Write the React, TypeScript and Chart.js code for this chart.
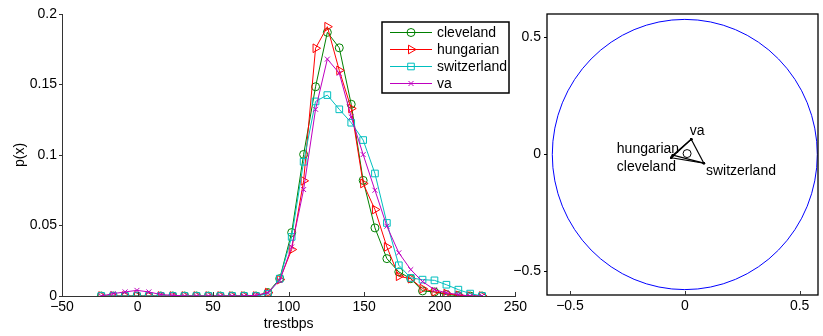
import React, { useEffect, useRef } from "react";
import { Chart, registerables } from "chart.js";

Chart.register(...registerables);

// ---------- Left panel data ----------
const X_VALUES = [
  -24, -16.1, -8.25, -0.4, 7.5, 15.4, 23.3, 31.1, 39, 46.9, 54.8, 62.6, 70.5, 78.4, 86.3, 94.1, 102,
  109.9, 117.8, 125.6, 133.5, 141.4, 149.3, 157.1, 165, 172.9, 180.8, 188.6, 196.5, 204.4, 212.3, 220.1, 228,
];
const CLEVELAND = [
  0, 0, 0, 0, 0, 0, 0, 0, 0, 0, 0, 0, 0, 0,
  0.0024, 0.0123, 0.045, 0.1004, 0.1484, 0.187, 0.176, 0.136, 0.082, 0.0483, 0.0265, 0.0171, 0.0123, 0.0036, 0.0029, 0.001, 0.0003, 0, 0,
];
const HUNGARIAN = [
  0, 0, 0, 0, 0, 0, 0, 0, 0, 0, 0, 0, 0, 0,
  0.0024, 0.0116, 0.033, 0.0817, 0.1757, 0.191, 0.16, 0.133, 0.0798, 0.0613, 0.0348, 0.014, 0.0123, 0.0052, 0.0029, 0.0017, 0.0005, 0, 0,
];
const SWITZERLAND = [
  0, 0, 0, 0, 0, 0, 0, 0, 0, 0, 0, 0, 0, 0,
  0.0015, 0.0123, 0.0419, 0.0952, 0.138, 0.1425, 0.1324, 0.1229, 0.1106, 0.0869, 0.0518, 0.0218, 0.0128, 0.0116, 0.0111, 0.008, 0.0045, 0.0017, 0,
];
const VA = [
  0, 0.0017, 0.0029, 0.004, 0.0029, 0.001, 0.0005, 0, 0, 0, 0, 0, 0, 0.0005,
  0.0024, 0.011, 0.0348, 0.0755, 0.1324, 0.168, 0.158, 0.127, 0.1003, 0.075, 0.0495, 0.0306, 0.0187, 0.0102, 0.0045, 0.0022, 0.001, 0, 0,
];
const SERIES_NAMES = ["cleveland", "hungarian", "switzerland", "va"];
const SERIES_VALUES = [CLEVELAND, HUNGARIAN, SWITZERLAND, VA];
const SERIES_COLORS = ["#008000", "#ff0000", "#00bfbf", "#bf00bf"];
const SERIES_MARKERS = ["circle", "triRight", "square", "x"];
const LEFT_X_TICKS = [-50, 0, 50, 100, 150, 200, 250];
const LEFT_Y_TICKS = [0, 0.05, 0.1, 0.15, 0.2];

// ---------- Right panel data ----------
const POINT_NAMES = ["cleveland", "hungarian", "switzerland", "va"];
const POINT_X = [-0.059, -0.052, 0.083, 0.028];
const POINT_Y = [-0.014, -0.003, -0.037, 0.065];
const CENTER_MARK = [0.01, 0.004];
const CIRCLE_RADIUS = 0.577;
const LABEL_X = [-0.296, -0.296, 0.092, 0.022];
const LABEL_Y = [-0.056, 0.023, -0.07, 0.1];
const RIGHT_TICKS = [-0.5, 0, 0.5];

const FONT_FAMILY = "'Liberation Sans', Arial, Helvetica, sans-serif";
const FONT = { family: FONT_FAMILY, size: 14 };
const H = 336;

const fmt = (v: number) => {
  const s = String(Math.round(v * 1000) / 1000);
  return s.replace("-", "\u2212");
};

function markerProps(m: string) {
  if (m === "circle") return { pointStyle: "circle", pointRadius: 4, pointRotation: 0 };
  if (m === "triRight") return { pointStyle: "triangle", pointRadius: 5, pointRotation: 90 };
  if (m === "square") return { pointStyle: "rect", pointRadius: 4.7, pointRotation: 0 };
  return { pointStyle: "crossRot", pointRadius: 3.5, pointRotation: 0 };
}

function drawMarker(ctx: CanvasRenderingContext2D, m: string, x: number, y: number) {
  ctx.beginPath();
  if (m === "circle") {
    ctx.arc(x, y, 4, 0, Math.PI * 2);
  } else if (m === "triRight") {
    const r = 5;
    ctx.moveTo(x + r, y);
    ctx.lineTo(x - r * 0.5, y - r * 0.866);
    ctx.lineTo(x - r * 0.5, y + r * 0.866);
    ctx.closePath();
  } else if (m === "square") {
    ctx.rect(x - 3.3, y - 3.3, 6.6, 6.6);
  } else {
    const d = 2.5;
    ctx.moveTo(x - d, y - d);
    ctx.lineTo(x + d, y + d);
    ctx.moveTo(x + d, y - d);
    ctx.lineTo(x - d, y + d);
  }
  ctx.stroke();
}

const innerXTicks = {
  id: "innerXTicks",
  afterDraw(chart: any) {
    const { ctx, chartArea, scales } = chart;
    const x = scales.x;
    ctx.save();
    ctx.strokeStyle = "#333";
    ctx.lineWidth = 1;
    x.ticks.forEach((t: any) => {
      const px = Math.round(x.getPixelForValue(t.value)) + 0.5;
      ctx.beginPath();
      ctx.moveTo(px, chartArea.bottom);
      ctx.lineTo(px, chartArea.bottom - 4);
      ctx.stroke();
    });
    ctx.restore();
  },
};

const legendBox = {
  id: "legendBox",
  afterDraw(chart: any) {
    const { ctx } = chart;
    ctx.save();
    const bx = 382, by = 22, bw = 127, bh = 71;
    ctx.fillStyle = "#fff";
    ctx.fillRect(bx, by, bw, bh);
    ctx.strokeStyle = "#000";
    ctx.lineWidth = 1.5;
    ctx.strokeRect(bx, by, bw, bh);
    ctx.font = `${FONT.size}px ${FONT_FAMILY}`;
    ctx.textBaseline = "middle";
    ctx.textAlign = "left";
    SERIES_NAMES.forEach((name, i) => {
      const y = 32.5 + i * 17;
      ctx.strokeStyle = SERIES_COLORS[i];
      ctx.lineWidth = 1;
      ctx.beginPath();
      ctx.moveTo(390, y);
      ctx.lineTo(432, y);
      ctx.stroke();
      drawMarker(ctx, SERIES_MARKERS[i], 411, y);
      ctx.fillStyle = "#000";
      ctx.fillText(name, 437, y + 0.5);
    });
    ctx.restore();
  },
};

const rightDecor = {
  id: "rightDecor",
  afterDatasetsDraw(chart: any) {
    const { ctx, chartArea, scales } = chart;
    const { x, y } = scales;
    ctx.save();
    const cx = x.getPixelForValue(0);
    const cy = y.getPixelForValue(0);
    const rx = Math.abs(x.getPixelForValue(CIRCLE_RADIUS) - cx);
    const ry = Math.abs(y.getPixelForValue(CIRCLE_RADIUS) - cy);
    ctx.strokeStyle = "#0000ff";
    ctx.lineWidth = 1;
    ctx.beginPath();
    ctx.ellipse(cx, cy, rx, ry, 0, 0, Math.PI * 2);
    ctx.stroke();
    ctx.font = `${FONT.size}px ${FONT_FAMILY}`;
    ctx.textBaseline = "middle";
    ctx.textAlign = "left";
    ctx.fillStyle = "#000";
    POINT_NAMES.forEach((n, i) => {
      ctx.fillText(n, x.getPixelForValue(LABEL_X[i]), y.getPixelForValue(LABEL_Y[i]));
    });
    ctx.strokeStyle = "#000";
    ctx.lineWidth = 1.3;
    ctx.strokeRect(chartArea.left, chartArea.top, chartArea.right - chartArea.left, chartArea.bottom - chartArea.top);
    ctx.restore();
  },
};

function LeftChart() {
  const ref = useRef<HTMLCanvasElement>(null);
  useEffect(() => {
    const datasets = SERIES_NAMES.map((name, k) => ({
      label: name,
      data: X_VALUES.map((xv, i) => ({ x: xv, y: SERIES_VALUES[k][i] })),
      borderColor: SERIES_COLORS[k],
      backgroundColor: "rgba(0,0,0,0)",
      pointBackgroundColor: "rgba(0,0,0,0)",
      pointBorderColor: SERIES_COLORS[k],
      borderWidth: 1,
      pointBorderWidth: 1,
      tension: 0,
      order: SERIES_NAMES.length - k,
      ...markerProps(SERIES_MARKERS[k]),
    }));
    const chart = new Chart(ref.current as HTMLCanvasElement, {
      type: "line",
      data: { datasets } as any,
      options: {
        animation: false,
        responsive: false,
        maintainAspectRatio: false,
        layout: { padding: { top: 14, right: 14, left: 0, bottom: 0 } },
        plugins: { legend: { display: false }, tooltip: { enabled: false } },
        scales: {
          x: {
            type: "linear",
            min: -50,
            max: 250,
            afterBuildTicks: (s: any) => {
              s.ticks = LEFT_X_TICKS.map((v) => ({ value: v }));
            },
            afterFit: (s: any) => {
              s.height = 40;
            },
            ticks: { font: FONT, color: "#000", padding: 3, maxRotation: 0, autoSkip: false, callback: (v: any) => fmt(Number(v)) },
            grid: { display: true, drawOnChartArea: false, drawTicks: false },
            border: { display: true, color: "#333", width: 1 },
            title: { display: true, text: "trestbps", font: FONT, color: "#000", padding: { top: 0, bottom: 3 } },
          },
          y: {
            type: "linear",
            min: 0,
            max: 0.2,
            afterBuildTicks: (s: any) => {
              s.ticks = LEFT_Y_TICKS.map((v) => ({ value: v }));
            },
            afterFit: (s: any) => {
              s.width = 62;
            },
            ticks: { font: FONT, color: "#000", padding: 2, autoSkip: false, callback: (v: any) => fmt(Number(v)) },
            grid: { display: true, drawOnChartArea: false, drawTicks: true, tickLength: 3, color: "#333" },
            border: { display: true, color: "#333", width: 1 },
            title: { display: true, text: "p(x)", font: FONT, color: "#000", padding: { top: 12, bottom: 0 } },
          },
        },
      } as any,
      plugins: [innerXTicks, legendBox],
    });
    return () => chart.destroy();
  }, []);
  return (
    <canvas
      ref={ref}
      width={530}
      height={H}
      style={{ position: "absolute", left: 0, top: 0, width: 530, height: H }}
    />
  );
}

function RightChart() {
  const ref = useRef<HTMLCanvasElement>(null);
  useEffect(() => {
    const edgeSets: any[] = [];
    for (let a = 0; a < POINT_X.length; a++) {
      for (let b = a + 1; b < POINT_X.length; b++) {
        edgeSets.push({
          data: [
            { x: POINT_X[a], y: POINT_Y[a] },
            { x: POINT_X[b], y: POINT_Y[b] },
          ],
          showLine: true,
          borderColor: "#000",
          borderWidth: 1.2,
          pointRadius: 1.2,
          pointBackgroundColor: "#000",
          pointBorderColor: "#000",
          pointBorderWidth: 0,
        });
      }
    }
    edgeSets.push({
      data: [{ x: CENTER_MARK[0], y: CENTER_MARK[1] }],
      showLine: false,
      pointStyle: "circle",
      pointRadius: 4,
      pointBorderColor: "#000",
      pointBackgroundColor: "rgba(0,0,0,0)",
      pointBorderWidth: 1,
    });
    const chart = new Chart(ref.current as HTMLCanvasElement, {
      type: "scatter",
      data: { datasets: edgeSets },
      options: {
        animation: false,
        responsive: false,
        maintainAspectRatio: false,
        layout: { padding: { top: 14, right: 1, left: 0, bottom: 0 } },
        plugins: { legend: { display: false }, tooltip: { enabled: false } },
        scales: {
          x: {
            type: "linear",
            min: -0.6,
            max: 0.58,
            afterBuildTicks: (s: any) => {
              s.ticks = RIGHT_TICKS.map((v) => ({ value: v }));
            },
            afterFit: (s: any) => {
              s.height = 41;
            },
            ticks: { font: FONT, color: "#000", padding: 3, maxRotation: 0, autoSkip: false, callback: (v: any) => fmt(Number(v)) },
            grid: { display: true, drawOnChartArea: false, drawTicks: false },
            border: { display: false },
          },
          y: {
            type: "linear",
            min: -0.6,
            max: 0.6,
            afterBuildTicks: (s: any) => {
              s.ticks = RIGHT_TICKS.map((v) => ({ value: v }));
            },
            afterFit: (s: any) => {
              s.width = 42;
            },
            ticks: { font: FONT, color: "#000", padding: 3, autoSkip: false, callback: (v: any) => fmt(Number(v)) },
            grid: { display: true, drawOnChartArea: false, drawTicks: true, tickLength: 3, color: "#000" },
            border: { display: false },
          },
        },
      } as any,
      plugins: [innerXTicks, rightDecor],
    });
    return () => chart.destroy();
  }, []);
  return (
    <canvas
      ref={ref}
      width={318}
      height={H}
      style={{ position: "absolute", left: 505, top: 0, width: 318, height: H }}
    />
  );
}

export default function App() {
  return (
    <div style={{ position: "absolute", left: 0, top: 0, width: 823, height: H, background: "#fff", overflow: "hidden" }}>
      <LeftChart />
      <RightChart />
    </div>
  );
}
